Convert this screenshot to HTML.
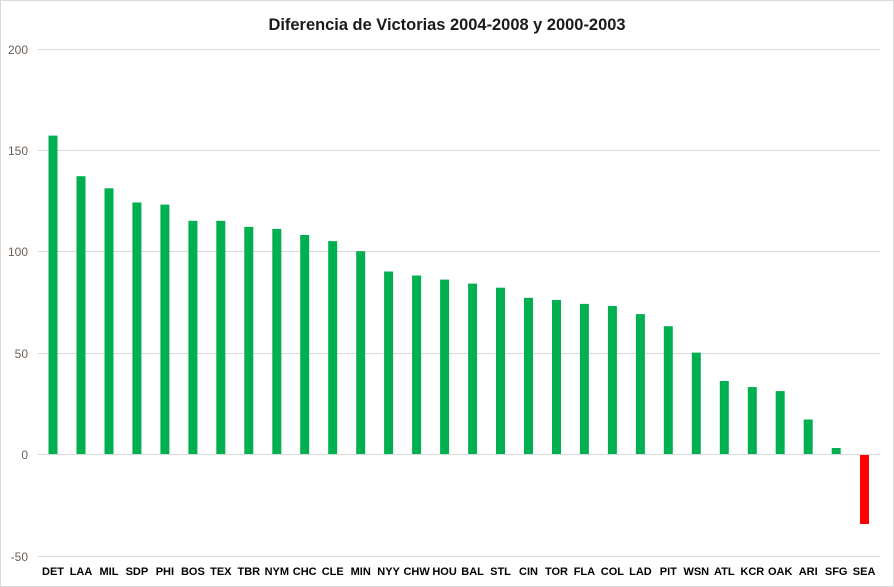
<!DOCTYPE html>
<html><head><meta charset="utf-8"><style>body{margin:0;background:#fff}svg{display:block}</style></head><body>
<svg width="894" height="587" viewBox="0 0 894 587" xmlns="http://www.w3.org/2000/svg" font-family="Liberation Sans, sans-serif">
<rect x="0.5" y="0.5" width="893" height="586" fill="#fff" stroke="#d9d9d9"/>
<text x="447" y="30" text-anchor="middle" font-size="17" font-weight="bold" fill="#1a1a1a" textLength="357" lengthAdjust="spacingAndGlyphs">Diferencia de Victorias 2004-2008 y 2000-2003</text>
<g stroke="#d9d9d9" stroke-width="1">
<line x1="38" x2="880" y1="49.5" y2="49.5"/><line x1="38" x2="880" y1="150.5" y2="150.5"/><line x1="38" x2="880" y1="251.5" y2="251.5"/><line x1="38" x2="880" y1="353.5" y2="353.5"/><line x1="38" x2="880" y1="454.5" y2="454.5"/><line x1="38" x2="880" y1="556.5" y2="556.5"/>
</g>
<g font-size="12" fill="#6b5f55" text-anchor="end">
<text x="28" y="54">200</text><text x="28" y="155">150</text><text x="28" y="256">100</text><text x="28" y="358">50</text><text x="28" y="459">0</text><text x="28" y="561">-50</text>
</g>
<g fill="#00b050">
<rect x="48.5" y="135.6" width="9" height="318.4"/>
<rect x="76.5" y="176.2" width="9" height="277.8"/>
<rect x="104.5" y="188.3" width="9" height="265.7"/>
<rect x="132.4" y="202.5" width="9" height="251.5"/>
<rect x="160.4" y="204.6" width="9" height="249.4"/>
<rect x="188.4" y="220.8" width="9" height="233.2"/>
<rect x="216.3" y="220.8" width="9" height="233.2"/>
<rect x="244.3" y="226.9" width="9" height="227.1"/>
<rect x="272.3" y="228.9" width="9" height="225.1"/>
<rect x="300.2" y="235" width="9" height="219"/>
<rect x="328.2" y="241.1" width="9" height="212.9"/>
<rect x="356.2" y="251.2" width="9" height="202.8"/>
<rect x="384.1" y="271.5" width="9" height="182.5"/>
<rect x="412.1" y="275.5" width="9" height="178.5"/>
<rect x="440.1" y="279.6" width="9" height="174.4"/>
<rect x="468.1" y="283.6" width="9" height="170.4"/>
<rect x="496" y="287.7" width="9" height="166.3"/>
<rect x="524" y="297.8" width="9" height="156.2"/>
<rect x="552" y="299.9" width="9" height="154.1"/>
<rect x="579.9" y="303.9" width="9" height="150.1"/>
<rect x="607.9" y="306" width="9" height="148"/>
<rect x="635.9" y="314.1" width="9" height="139.9"/>
<rect x="663.8" y="326.2" width="9" height="127.8"/>
<rect x="691.8" y="352.6" width="9" height="101.4"/>
<rect x="719.8" y="381" width="9" height="73"/>
<rect x="747.8" y="387.1" width="9" height="66.9"/>
<rect x="775.7" y="391.1" width="9" height="62.9"/>
<rect x="803.7" y="419.5" width="9" height="34.5"/>
<rect x="831.7" y="448" width="9" height="6"/>
</g>
<rect x="860" y="455" width="9" height="69" fill="#ff0000"/>
<g font-size="11" font-weight="bold" fill="#000" text-anchor="middle">
<text x="53" y="575">DET</text><text x="81" y="575">LAA</text><text x="109" y="575">MIL</text><text x="136.9" y="575">SDP</text><text x="164.9" y="575">PHI</text><text x="192.9" y="575">BOS</text><text x="220.8" y="575">TEX</text><text x="248.8" y="575">TBR</text><text x="276.8" y="575">NYM</text><text x="304.7" y="575">CHC</text><text x="332.7" y="575">CLE</text><text x="360.7" y="575">MIN</text><text x="388.6" y="575">NYY</text><text x="416.6" y="575">CHW</text><text x="444.6" y="575">HOU</text><text x="472.6" y="575">BAL</text><text x="500.5" y="575">STL</text><text x="528.5" y="575">CIN</text><text x="556.5" y="575">TOR</text><text x="584.4" y="575">FLA</text><text x="612.4" y="575">COL</text><text x="640.4" y="575">LAD</text><text x="668.3" y="575">PIT</text><text x="696.3" y="575">WSN</text><text x="724.3" y="575">ATL</text><text x="752.3" y="575">KCR</text><text x="780.2" y="575">OAK</text><text x="808.2" y="575">ARI</text><text x="836.2" y="575">SFG</text><text x="864.1" y="575">SEA</text>
</g>
</svg>
</body></html>
